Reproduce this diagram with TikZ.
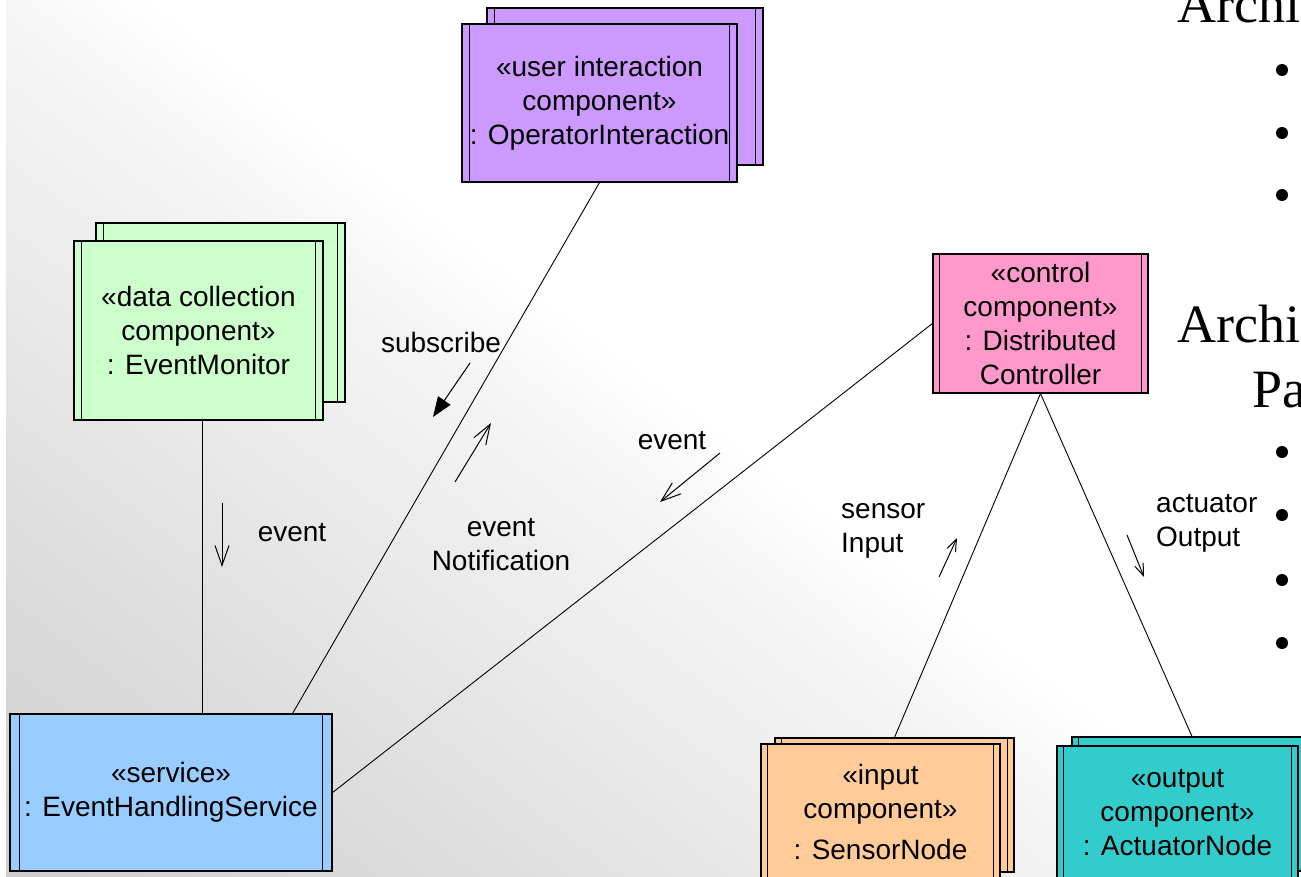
\documentclass[tikz,border=0pt]{standalone}
\usepackage{fontspec}
\setmainfont{Liberation Sans}
\newfontfamily\serifface{Liberation Serif}
\usetikzlibrary{arrows.meta,fit,calc}

% component fills
\definecolor{cPurple}{HTML}{CC99FF}
\definecolor{cGreen}{HTML}{CCFFCC}
\definecolor{cPink}{HTML}{FF99CC}
\definecolor{cBlue}{HTML}{99CCFF}
\definecolor{cOrange}{HTML}{FFCC99}
\definecolor{cTeal}{HTML}{33CCCC}

% slide background: grey at the lower left, white towards the upper right
\definecolor{bgA}{gray}{0.78}
\definecolor{bgB}{gray}{0.80}
\definecolor{bgC}{gray}{0.965}
\pgfdeclareverticalshading{bgshade}{1700bp}{color(0bp)=(bgA); color(109bp)=(bgB); color(809bp)=(bgC); color(900bp)=(white); color(1700bp)=(white)}

\newcommand\umlfont{\fontsize{28}{34}\selectfont}
\newcommand\headfont{\serifface\fontsize{54}{60}\selectfont}

% component box: name, x1, y1, x2, y2, fill, bar width, text
\newcommand\umlbox[8]{%
  \node[compbox, fill=#6, fit={(#2,#3) (#4,#5)}] (#1) {};
  \draw[barline] ([xshift=#7pt]#1.north west) -- ([xshift=#7pt]#1.south west)
                 ([xshift=-#7pt]#1.north east) -- ([xshift=-#7pt]#1.south east);
  \node[lbl, align=center] (#1-text) at (#1.center) {#8};%
}

\begin{document}
\begin{tikzpicture}[x=1pt,y=-1pt,
  compbox/.style={draw=black, line width=1.2pt, inner sep=0pt},
  barline/.style={draw=black, line width=1.2pt},
  conn/.style={draw=black, line width=0.9pt},
  lbl/.style={font=\umlfont, inner sep=0pt},
  bigmsg/.style={line width=1pt, -{Straight Barb[length=20pt, width=14pt]}},
  smallmsg/.style={line width=1pt, -{Straight Barb[length=12pt, width=9pt]}},
  solidmsg/.style={line width=1pt, -{Triangle[length=20pt, width=15pt]}},
  head/.style={font=\headfont, inner sep=0pt, anchor=base west}]

\useasboundingbox (0,0) rectangle (1301,877);
\clip (0,0) rectangle (1301,877);

% background
\fill[white] (0,0) rectangle (1301,877);
\begin{scope}
  \clip (6,0) rectangle (1301,877);
  \node[rotate=-37, inner sep=0pt] (bg) at (650.5,438.5) {\pgfuseshading{bgshade}};
\end{scope}

% slide text on the right
\node[head] (h1) at (1177,23) {Archi};
\node[head] (h2) at (1177,342) {Archi};
\node[head] (h3) at (1252,407) {Pa};
\foreach \yy in {70,133,195,452,515,580,643}
  \fill (1282,\yy) circle (6pt);

% components
\umlbox{uiB}{487}{8}{763}{165}{cPurple}{8}{}
\umlbox{ui}{462}{24}{737}{182}{cPurple}{8}{«user interaction\\component»\\: OperatorInteraction}

\umlbox{emB}{96}{223}{345}{402}{cGreen}{8}{}
\umlbox{em}{74}{241}{323}{420}{cGreen}{8}{«data collection\\component»\\: EventMonitor}

\umlbox{ctl}{933}{254}{1148}{393}{cPink}{7}{«control\\component»\\: Distributed\\Controller}

\umlbox{svc}{10}{714}{332}{871}{cBlue}{10}{«service»\\: EventHandlingService}

\umlbox{snB}{775}{738}{1014}{872}{cOrange}{7}{}
\umlbox{sn}{761}{744}{1000}{880}{cOrange}{7}{«input\\component»\\[7pt]: SensorNode}

\umlbox{anB}{1072}{737}{1312}{871}{cTeal}{7}{}
\umlbox{an}{1057}{746}{1298}{880}{cTeal}{7}{«output\\component»\\: ActuatorNode}

% links
\draw[conn] ($(em.south)+(3.5,0)$) -- ($(em.south |- svc.north)+(3.5,0)$);
\draw[conn] (ui.south) -- ($(svc.north east)+(-40,0)$);
\draw[conn] (ctl.west) -- (svc.east);
\draw[conn] (ctl.south) -- (snB.north);
\draw[conn] (ctl.south) -- (anB.north);

% message labels
\node[lbl] (lsub) at (441,342) {subscribe};
\node[lbl] (lev1) at (292,533) {event};
\node[lbl, align=center] (lnot) at (501,545) {event\\Notification};
\node[lbl] (lev2) at (672,441) {event};
\node[lbl, align=left, anchor=west] (lsen) at (841,531) {sensor\\Input};
\node[lbl, align=left, anchor=west] (lact) at (1156,523) {actuator\\Output};

% message arrows
\coordinate (m1a) at (222,503);  \coordinate (m1b) at (222,567);
\coordinate (m2a) at (470,363);  \coordinate (m2b) at (433,417);
\coordinate (m3a) at (455,482);  \coordinate (m3b) at (491,423);
\coordinate (m4a) at (720,453);  \coordinate (m4b) at (660,502);
\coordinate (m5a) at (939,577);  \coordinate (m5b) at (957,538);
\coordinate (m6a) at (1127,535); \coordinate (m6b) at (1144,577);
\draw[bigmsg] (m1a) -- (m1b);
\draw[solidmsg] (m2a) -- (m2b);
\draw[bigmsg] (m3a) -- (m3b);
\draw[bigmsg] (m4a) -- (m4b);
\draw[smallmsg] (m5a) -- (m5b);
\draw[smallmsg] (m6a) -- (m6b);
\end{tikzpicture}
\end{document}
